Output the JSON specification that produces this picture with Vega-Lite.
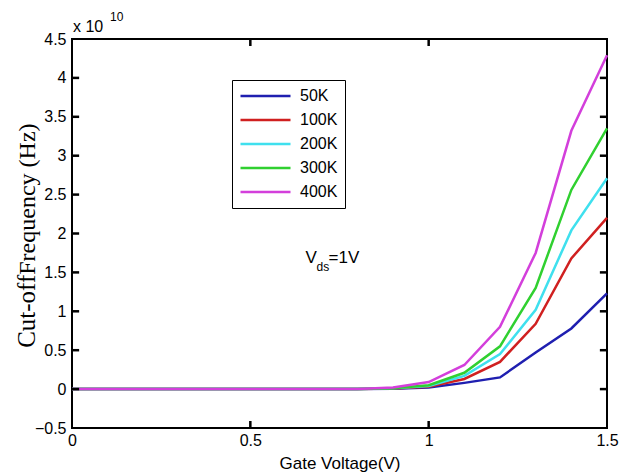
{
  "$schema": "https://vega.github.io/schema/vega-lite/v6.json",
  "width": 535,
  "height": 389,
  "autosize": {"type": "none"},
  "padding": {"left": 72, "top": 39, "right": 15, "bottom": 48},
  "background": "white",
  "config": {
    "view": {"stroke": "black", "strokeWidth": 2},
    "font": "Liberation Sans",
    "axis": {"domain": false, "grid": false, "ticks": false, "labelFont": "Liberation Sans", "labelColor": "black", "titleColor": "black", "labelOverlap": false, "format": "~g"}
  },
  "resolve": {"axis": {"x": "independent", "y": "independent"}},
  "datasets": {
    "curves": [
      {"v": 0.0, "f": 0, "T": "50K"}, {"v": 0.1, "f": 0, "T": "50K"}, {"v": 0.2, "f": 0, "T": "50K"}, {"v": 0.3, "f": 0, "T": "50K"}, {"v": 0.4, "f": 0, "T": "50K"}, {"v": 0.5, "f": 0, "T": "50K"}, {"v": 0.6, "f": 0, "T": "50K"}, {"v": 0.7, "f": 0, "T": "50K"}, {"v": 0.8, "f": 0, "T": "50K"}, {"v": 0.9, "f": 0.005, "T": "50K"}, {"v": 1.0, "f": 0.02, "T": "50K"}, {"v": 1.1, "f": 0.08, "T": "50K"}, {"v": 1.2, "f": 0.15, "T": "50K"}, {"v": 1.3, "f": 0.47, "T": "50K"}, {"v": 1.4, "f": 0.78, "T": "50K"}, {"v": 1.5, "f": 1.23, "T": "50K"},
      {"v": 0.0, "f": 0, "T": "100K"}, {"v": 0.1, "f": 0, "T": "100K"}, {"v": 0.2, "f": 0, "T": "100K"}, {"v": 0.3, "f": 0, "T": "100K"}, {"v": 0.4, "f": 0, "T": "100K"}, {"v": 0.5, "f": 0, "T": "100K"}, {"v": 0.6, "f": 0, "T": "100K"}, {"v": 0.7, "f": 0, "T": "100K"}, {"v": 0.8, "f": 0, "T": "100K"}, {"v": 0.9, "f": 0.008, "T": "100K"}, {"v": 1.0, "f": 0.03, "T": "100K"}, {"v": 1.1, "f": 0.13, "T": "100K"}, {"v": 1.2, "f": 0.35, "T": "100K"}, {"v": 1.3, "f": 0.84, "T": "100K"}, {"v": 1.4, "f": 1.68, "T": "100K"}, {"v": 1.5, "f": 2.2, "T": "100K"},
      {"v": 0.0, "f": 0, "T": "200K"}, {"v": 0.1, "f": 0, "T": "200K"}, {"v": 0.2, "f": 0, "T": "200K"}, {"v": 0.3, "f": 0, "T": "200K"}, {"v": 0.4, "f": 0, "T": "200K"}, {"v": 0.5, "f": 0, "T": "200K"}, {"v": 0.6, "f": 0, "T": "200K"}, {"v": 0.7, "f": 0, "T": "200K"}, {"v": 0.8, "f": 0, "T": "200K"}, {"v": 0.9, "f": 0.01, "T": "200K"}, {"v": 1.0, "f": 0.04, "T": "200K"}, {"v": 1.1, "f": 0.17, "T": "200K"}, {"v": 1.2, "f": 0.45, "T": "200K"}, {"v": 1.3, "f": 1.02, "T": "200K"}, {"v": 1.4, "f": 2.04, "T": "200K"}, {"v": 1.5, "f": 2.71, "T": "200K"},
      {"v": 0.0, "f": 0, "T": "300K"}, {"v": 0.1, "f": 0, "T": "300K"}, {"v": 0.2, "f": 0, "T": "300K"}, {"v": 0.3, "f": 0, "T": "300K"}, {"v": 0.4, "f": 0, "T": "300K"}, {"v": 0.5, "f": 0, "T": "300K"}, {"v": 0.6, "f": 0, "T": "300K"}, {"v": 0.7, "f": 0, "T": "300K"}, {"v": 0.8, "f": 0, "T": "300K"}, {"v": 0.9, "f": 0.012, "T": "300K"}, {"v": 1.0, "f": 0.05, "T": "300K"}, {"v": 1.1, "f": 0.21, "T": "300K"}, {"v": 1.2, "f": 0.55, "T": "300K"}, {"v": 1.3, "f": 1.3, "T": "300K"}, {"v": 1.4, "f": 2.56, "T": "300K"}, {"v": 1.5, "f": 3.35, "T": "300K"},
      {"v": 0.0, "f": 0, "T": "400K"}, {"v": 0.1, "f": 0, "T": "400K"}, {"v": 0.2, "f": 0, "T": "400K"}, {"v": 0.3, "f": 0, "T": "400K"}, {"v": 0.4, "f": 0, "T": "400K"}, {"v": 0.5, "f": 0, "T": "400K"}, {"v": 0.6, "f": 0, "T": "400K"}, {"v": 0.7, "f": 0, "T": "400K"}, {"v": 0.8, "f": 0, "T": "400K"}, {"v": 0.9, "f": 0.02, "T": "400K"}, {"v": 1.0, "f": 0.09, "T": "400K"}, {"v": 1.1, "f": 0.31, "T": "400K"}, {"v": 1.2, "f": 0.8, "T": "400K"}, {"v": 1.3, "f": 1.75, "T": "400K"}, {"v": 1.4, "f": 3.32, "T": "400K"}, {"v": 1.5, "f": 4.29, "T": "400K"}
    ],
    "xticks": [{"v": 0.5}, {"v": 1.0}],
    "yticks": [{"f": 0}, {"f": 0.5}, {"f": 1}, {"f": 1.5}, {"f": 2}, {"f": 2.5}, {"f": 3}, {"f": 3.5}, {"f": 4}],
    "notes": [
      {"v": 0.655, "f": 1.62, "t": "V", "k": "v"},
      {"v": 0.655, "f": 1.62, "t": "ds", "k": "ds"},
      {"v": 0.655, "f": 1.62, "t": "=1V", "k": "eq"},
      {"v": 0, "f": 4.5, "t": "x 10", "k": "x10"},
      {"v": 0, "f": 4.5, "t": "10", "k": "exp"},
      {"v": -0.104, "f": 0.53, "t": "Cut-off", "k": "yt1"},
      {"v": -0.104, "f": 1.47, "t": "Frequency (Hz)", "k": "yt2"}
    ]
  },
  "layer": [
    {
      "data": {"name": "curves"},
      "mark": {"type": "line", "strokeWidth": 2.5},
      "encoding": {
        "x": {"field": "v", "type": "quantitative", "scale": {"domain": [0, 1.5], "nice": false},
          "axis": {"values": [0, 0.5, 1, 1.5], "title": "Gate Voltage(V)", "titleFont": "Liberation Sans", "titleFontSize": 17, "titleFontWeight": "normal", "titlePadding": 7, "labelFontSize": 16, "labelPadding": 4, "labelFlush": false, "labelOverlap": false}},
        "y": {"field": "f", "type": "quantitative", "scale": {"domain": [-0.5, 4.5], "nice": false, "zero": false},
          "axis": {"values": [-0.5, 0, 0.5, 1, 1.5, 2, 2.5, 3, 3.5, 4, 4.5], "title": null, "labelFontSize": 16, "labelPadding": 6, "labelOverlap": false}},
        "color": {"field": "T", "type": "nominal",
          "scale": {"domain": ["50K", "100K", "200K", "300K", "400K"], "range": ["#1f1fb0", "#d02020", "#3fe0ee", "#30d030", "#d33fdb"]},
          "legend": {"title": null, "orient": "none", "legendX": 160, "legendY": 41, "symbolType": "stroke", "symbolSize": 2500, "symbolStrokeWidth": 2.5, "labelFontSize": 16, "labelFont": "Liberation Sans", "labelColor": "black", "labelOffset": 8, "clipHeight": 18, "rowPadding": 6, "padding": 7, "strokeColor": "black", "fillColor": "white", "cornerRadius": 0}},
        "order": {"field": "v", "type": "quantitative"}
      }
    },
    {
      "data": {"name": "xticks"},
      "mark": {"type": "rule", "color": "#000000", "strokeWidth": 2.5},
      "encoding": {"x": {"field": "v", "type": "quantitative", "axis": null}, "y": {"datum": -0.5, "axis": null}, "y2": {"datum": -0.41}}
    },
    {
      "data": {"name": "xticks"},
      "mark": {"type": "rule", "color": "#000000", "strokeWidth": 2.5},
      "encoding": {"x": {"field": "v", "type": "quantitative", "axis": null}, "y": {"datum": 4.5, "axis": null}, "y2": {"datum": 4.41}}
    },
    {
      "data": {"name": "yticks"},
      "mark": {"type": "rule", "color": "#000000", "strokeWidth": 2.5},
      "encoding": {"y": {"field": "f", "type": "quantitative", "axis": null}, "x": {"datum": 0, "axis": null}, "x2": {"datum": 0.02}}
    },
    {
      "data": {"name": "yticks"},
      "mark": {"type": "rule", "color": "#000000", "strokeWidth": 2.5},
      "encoding": {"y": {"field": "f", "type": "quantitative", "axis": null}, "x": {"datum": 1.5, "axis": null}, "x2": {"datum": 1.48}}
    },
    {
      "data": {"name": "notes"},
      "transform": [{"filter": "datum.k == 'v'"}],
      "mark": {"type": "text", "align": "left", "baseline": "alphabetic", "fontSize": 17, "font": "Liberation Sans", "color": "black"},
      "encoding": {"x": {"field": "v", "type": "quantitative", "axis": null}, "y": {"field": "f", "type": "quantitative", "axis": null}, "text": {"field": "t"}}
    },
    {
      "data": {"name": "notes"},
      "transform": [{"filter": "datum.k == 'ds'"}],
      "mark": {"type": "text", "align": "left", "baseline": "alphabetic", "fontSize": 12, "font": "Liberation Sans", "color": "black", "dx": 11, "dy": 8},
      "encoding": {"x": {"field": "v", "type": "quantitative", "axis": null}, "y": {"field": "f", "type": "quantitative", "axis": null}, "text": {"field": "t"}}
    },
    {
      "data": {"name": "notes"},
      "transform": [{"filter": "datum.k == 'eq'"}],
      "mark": {"type": "text", "align": "left", "baseline": "alphabetic", "fontSize": 17, "font": "Liberation Sans", "color": "black", "dx": 23},
      "encoding": {"x": {"field": "v", "type": "quantitative", "axis": null}, "y": {"field": "f", "type": "quantitative", "axis": null}, "text": {"field": "t"}}
    },
    {
      "data": {"name": "notes"},
      "transform": [{"filter": "datum.k == 'x10'"}],
      "mark": {"type": "text", "align": "left", "baseline": "alphabetic", "fontSize": 16, "font": "Liberation Sans", "color": "black", "dx": 1, "dy": -7},
      "encoding": {"x": {"field": "v", "type": "quantitative", "axis": null}, "y": {"field": "f", "type": "quantitative", "axis": null}, "text": {"field": "t"}}
    },
    {
      "data": {"name": "notes"},
      "transform": [{"filter": "datum.k == 'exp'"}],
      "mark": {"type": "text", "align": "left", "baseline": "alphabetic", "fontSize": 12, "font": "Liberation Sans", "color": "black", "dx": 38, "dy": -18},
      "encoding": {"x": {"field": "v", "type": "quantitative", "axis": null}, "y": {"field": "f", "type": "quantitative", "axis": null}, "text": {"field": "t"}}
    },
    {
      "data": {"name": "notes"},
      "transform": [{"filter": "datum.k == 'yt1'"}],
      "mark": {"type": "text", "align": "left", "baseline": "alphabetic", "angle": 270, "fontSize": 25, "font": "Liberation Serif", "color": "black"},
      "encoding": {"x": {"field": "v", "type": "quantitative", "axis": null}, "y": {"field": "f", "type": "quantitative", "axis": null}, "text": {"field": "t"}}
    },
    {
      "data": {"name": "notes"},
      "transform": [{"filter": "datum.k == 'yt2'"}],
      "mark": {"type": "text", "align": "left", "baseline": "alphabetic", "angle": 270, "fontSize": 24, "font": "Liberation Serif", "color": "black"},
      "encoding": {"x": {"field": "v", "type": "quantitative", "axis": null}, "y": {"field": "f", "type": "quantitative", "axis": null}, "text": {"field": "t"}}
    }
  ]
}
